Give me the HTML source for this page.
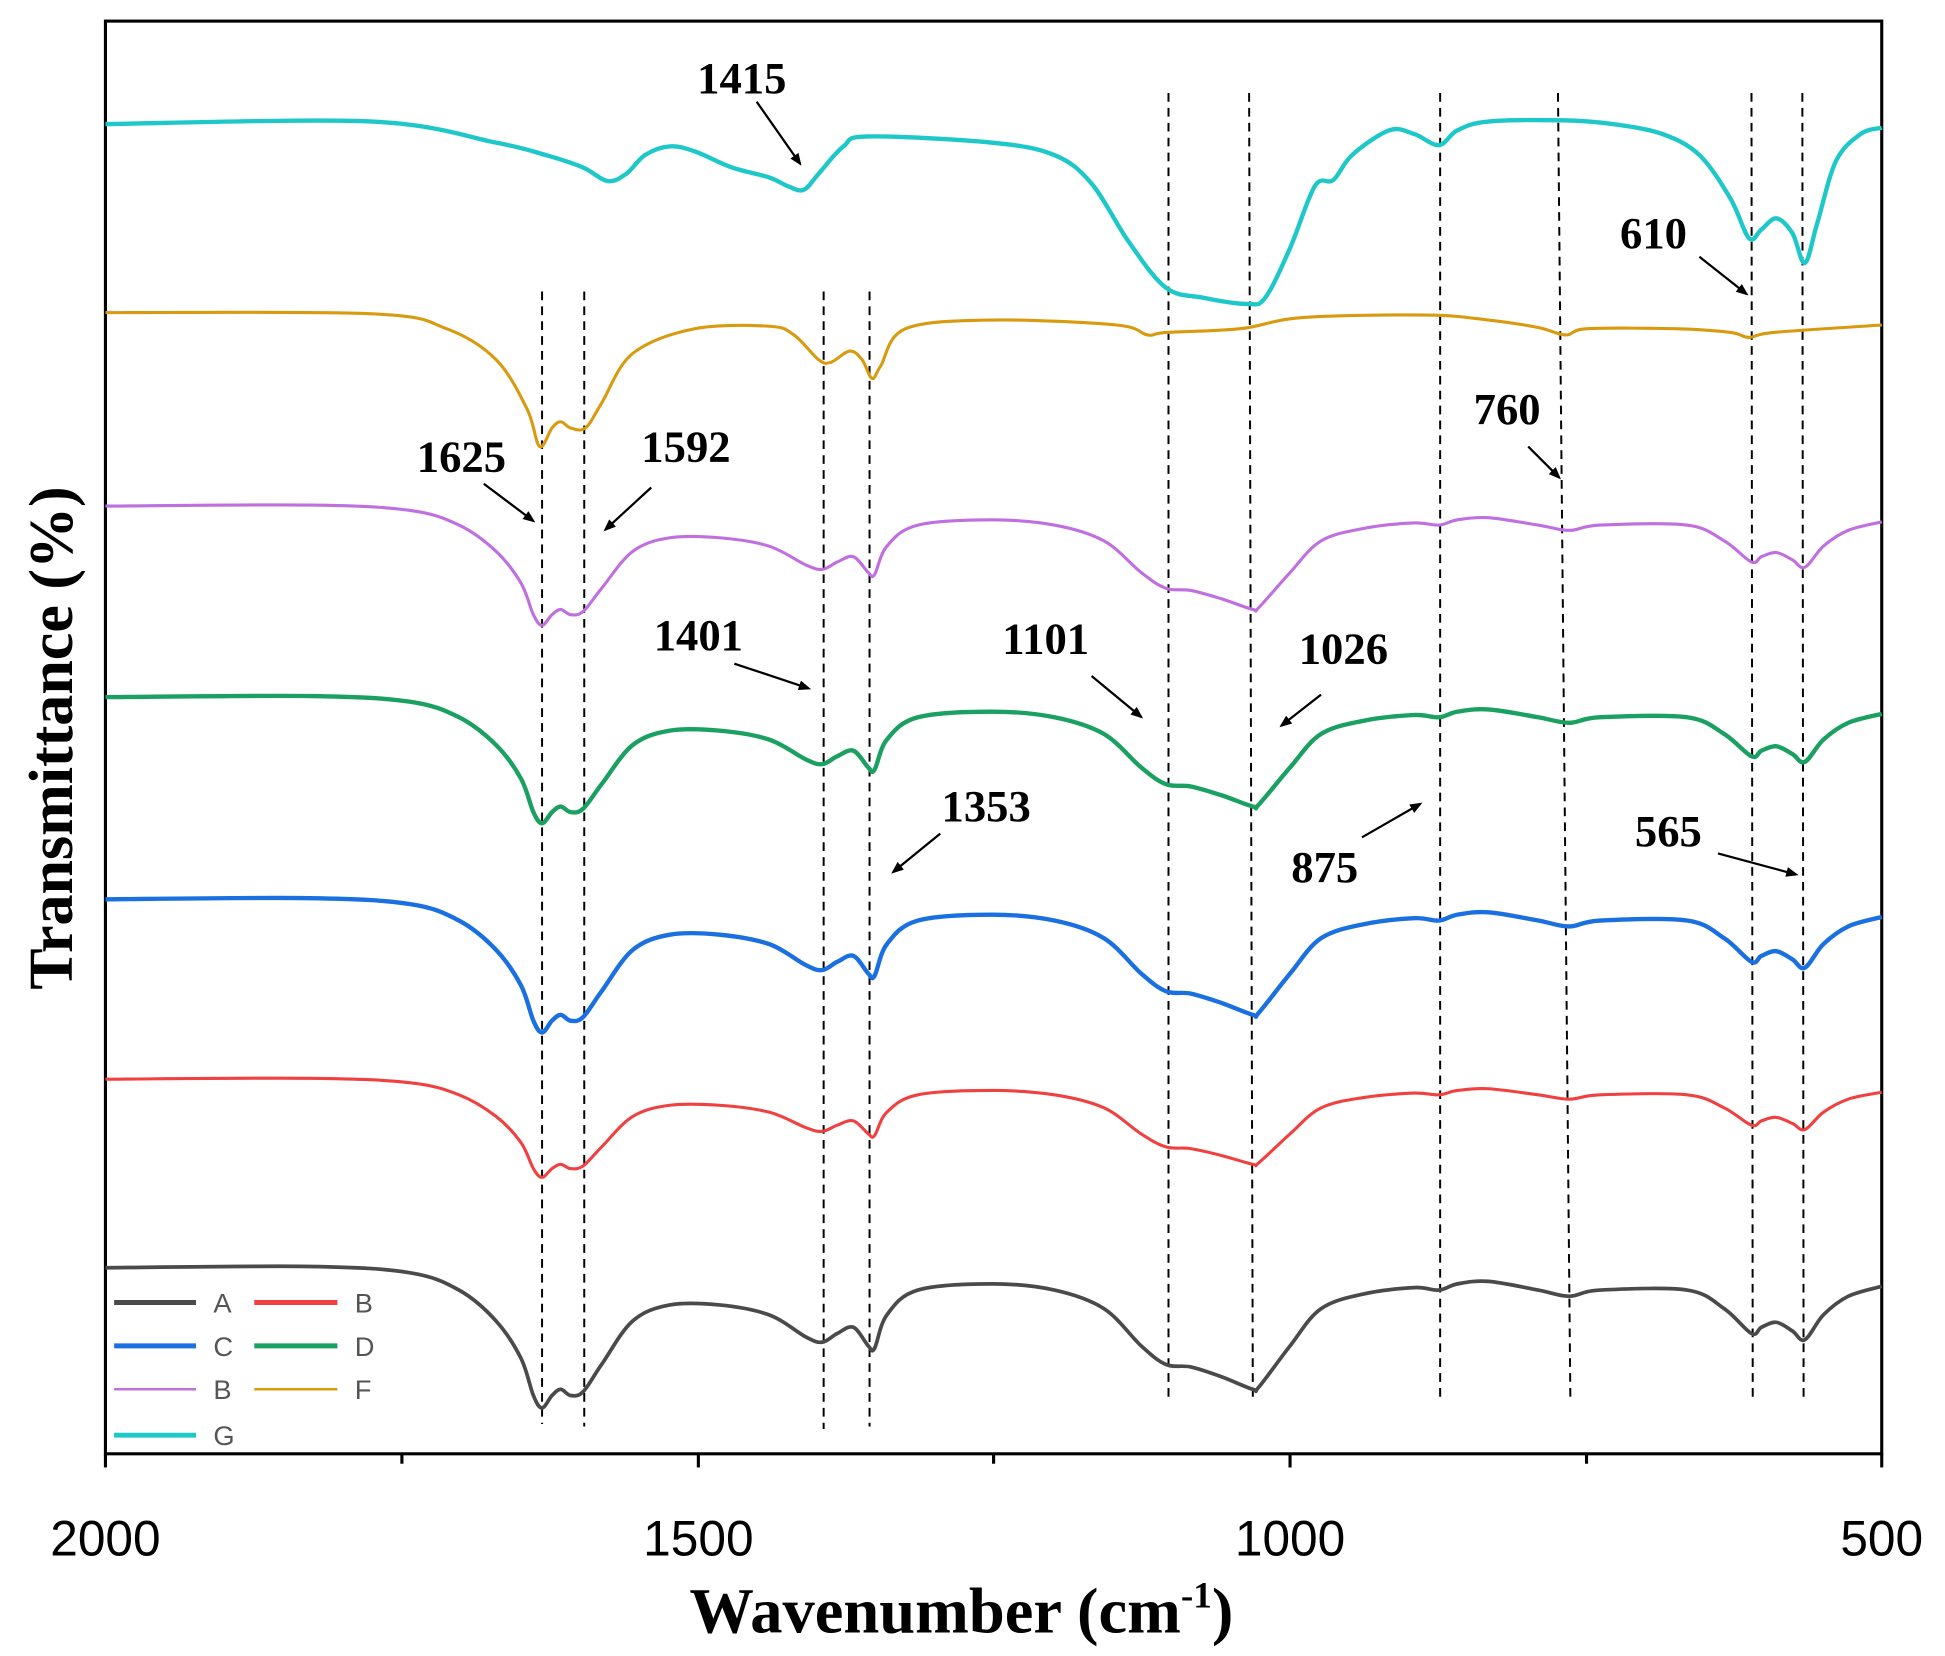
<!DOCTYPE html>
<html><head><meta charset="utf-8"><style>
html,body{margin:0;padding:0;background:#fff;}
svg{display:block;}
</style></head><body>
<svg id="s" width="1945" height="1656" viewBox="0 0 1568 1335" xmlns="http://www.w3.org/2000/svg">
<defs><marker id="ah" markerWidth="10" markerHeight="10" refX="8" refY="5" orient="auto" markerUnits="userSpaceOnUse"><path d="M0,1 L10,5 L0,9 Z" fill="#000"/></marker></defs>
<rect x="85" y="17" width="1432" height="1155" fill="none" stroke="#000" stroke-width="2.5"/>
<g stroke="#000" stroke-width="2.5">
<line x1="85" y1="1172" x2="85" y2="1183"/><line x1="324" y1="1172" x2="324" y2="1180"/><line x1="563" y1="1172" x2="563" y2="1183"/><line x1="801" y1="1172" x2="801" y2="1180"/><line x1="1040" y1="1172" x2="1040" y2="1183"/><line x1="1279" y1="1172" x2="1279" y2="1180"/><line x1="1517" y1="1172" x2="1517" y2="1183"/>
</g>
<g font-family="Liberation Sans, sans-serif" font-size="40" text-anchor="middle" fill="#000">
<text x="85" y="1254">2000</text><text x="563" y="1254">1500</text><text x="1040" y="1254">1000</text><text x="1517" y="1254">500</text>
</g>
<text x="775" y="1316" font-family="Liberation Serif, serif" font-weight="bold" font-size="52" text-anchor="middle">Wavenumber (cm<tspan dy="-20" font-size="30">-1</tspan><tspan dy="20">)</tspan></text>
<text transform="translate(58,595) rotate(-90)" font-family="Liberation Serif, serif" font-weight="bold" font-size="50" text-anchor="middle">Transmittance (%)</text>
<g id="dash" stroke="#000" stroke-width="1.6" stroke-dasharray="7,5" fill="none">
<line x1="437" y1="235" x2="437" y2="1148"/><line x1="471" y1="235" x2="471" y2="1150"/>
<line x1="664" y1="235" x2="664" y2="1152"/><line x1="701" y1="235" x2="701" y2="1150"/>
<line x1="942" y1="75" x2="942" y2="1130"/><line x1="1007" y1="75" x2="1010" y2="1130"/>
<line x1="1161" y1="75" x2="1161" y2="1130"/><line x1="1256" y1="75" x2="1266" y2="1130"/>
<line x1="1412" y1="75" x2="1413" y2="1130"/><line x1="1453" y1="75" x2="1454" y2="1130"/>
</g>
<g id="curves" fill="none" stroke-width="3" stroke-linejoin="round"></g>
<g font-family="Liberation Serif, serif" font-weight="bold" font-size="36" fill="#000" text-anchor="middle">
<text x="598" y="75">1415</text><text x="1333" y="200">610</text><text x="372" y="380">1625</text><text x="553" y="372">1592</text><text x="1215" y="342">760</text><text x="563" y="524">1401</text><text x="843" y="527">1101</text><text x="1083" y="535">1026</text><text x="795" y="662">1353</text><text x="1068" y="711">875</text><text x="1345" y="682">565</text>
</g>
<g stroke="#000" stroke-width="1.8" marker-end="url(#ah)">
<line x1="610" y1="82" x2="645" y2="132"/><line x1="1370" y1="207" x2="1408" y2="237"/><line x1="390" y1="390" x2="430" y2="420"/><line x1="525" y1="393" x2="488" y2="427"/><line x1="1232" y1="360" x2="1257" y2="385"/><line x1="592" y1="535" x2="652" y2="555"/><line x1="880" y1="545" x2="920" y2="578"/><line x1="1065" y1="560" x2="1033" y2="585"/><line x1="758" y1="672" x2="720" y2="703"/><line x1="1098" y1="675" x2="1145" y2="648"/><line x1="1385" y1="688" x2="1448" y2="705"/>
</g>
<g stroke-width="4">
<line x1="92" y1="1050" x2="158" y2="1050" stroke="#4a4a4a"/><line x1="205" y1="1050" x2="272" y2="1050" stroke="#f04040"/>
<line x1="92" y1="1085" x2="158" y2="1085" stroke="#1a70e0"/><line x1="205" y1="1085" x2="272" y2="1085" stroke="#1aa060"/>
<line x1="92" y1="1120" x2="158" y2="1120" stroke="#bf6fe0" stroke-width="2"/><line x1="205" y1="1120" x2="272" y2="1120" stroke="#d99a10" stroke-width="2"/>
<line x1="92" y1="1157" x2="158" y2="1157" stroke="#1ec8c8"/>
</g>
<g font-family="Liberation Sans, sans-serif" font-size="22" fill="#555">
<text x="172" y="1058">A</text><text x="286" y="1058">B</text><text x="172" y="1093">C</text><text x="286" y="1093">D</text><text x="172" y="1128">B</text><text x="286" y="1128">F</text><text x="172" y="1165">G</text>
</g>
</svg>
<script>
const A=[[85,1022],[250,1021],[330,1026],[370,1040],[400,1065],[420,1095],[430,1125],[437,1135],[445,1125],[452,1120],[460,1125],[470,1122],[485,1100],[510,1065],[540,1052],[580,1052],[620,1060],[650,1078],[663,1082],[675,1075],[688,1070],[700,1085],[705,1087],[715,1060],[740,1040],[800,1035],[850,1040],[890,1055],[920,1085],[940,1100],[960,1102],[985,1110],[1010,1120],[1015,1118],[1040,1085],[1065,1055],[1100,1043],[1140,1038],[1160,1040],[1175,1035],[1200,1033],[1240,1040],[1265,1045],[1290,1040],[1360,1040],[1390,1055],[1412,1075],[1420,1070],[1432,1066],[1445,1073],[1455,1080],[1470,1060],[1490,1045],[1517,1037]];
const F=[[85,252],[300,253],[360,265],[400,290],[425,330],[435,360],[445,345],[452,340],[460,345],[472,345],[485,325],[510,285],[560,265],[620,263],[640,270],[660,290],[670,292],[685,283],[695,290],[703,305],[710,295],[730,265],[800,258],[900,262],[925,270],[940,268],[1000,265],[1050,256],[1150,254],[1200,258],[1240,264],[1262,270],[1280,265],[1350,265],[1395,268],[1410,272],[1430,268],[1517,262]];
const G=[[85,100],[300,98],[400,115],[440,125],[470,135],[490,146],[505,140],[520,125],[540,118],[560,122],[590,135],[620,143],[635,150],[648,153],[660,140],[680,118],[700,110],[800,115],[850,125],[880,148],[910,195],[940,232],[970,240],[1005,245],[1020,240],[1040,200],[1060,150],[1075,145],[1090,125],[1120,105],[1140,108],[1160,117],[1175,105],[1200,98],[1260,97],[1300,100],[1340,108],[1370,125],[1395,160],[1410,192],[1420,185],[1432,176],[1445,188],[1455,212],[1465,180],[1480,130],[1500,108],[1517,103]];
function path(p){let d="M"+p[0][0]+","+p[0][1];for(let i=0;i<p.length-1;i++){const p0=p[i-1]||p[i],p1=p[i],p2=p[i+1],p3=p[i+2]||p2;
d+=` C${(p1[0]+(p2[0]-p0[0])/6).toFixed(1)},${(p1[1]+(p2[1]-p0[1])/6).toFixed(1)} ${(p2[0]-(p3[0]-p1[0])/6).toFixed(1)},${(p2[1]-(p3[1]-p1[1])/6).toFixed(1)} ${p2[0]},${p2[1]}`;}return d;}
const g=document.getElementById("curves");
function add(p,c,w){const e=document.createElementNS("http://www.w3.org/2000/svg","path");e.setAttribute("d",path(p));e.setAttribute("stroke",c);if(w)e.setAttribute("stroke-width",w);g.appendChild(e);}
function scaled(base,s){return A.map(q=>[q[0],base+(q[1]-1022)*s]);}
add(G,"#1ec8c8",3.5);add(F,"#d99a10",2.5);
add(scaled(408,0.85),"#bf6fe0",2.5);add(scaled(562,0.9),"#1aa060",3.5);
add(scaled(725,0.95),"#1a70e0",3.5);add(scaled(870,0.7),"#f04040",2.5);add(A,"#4a4a4a",3);
</script>
</body></html>
